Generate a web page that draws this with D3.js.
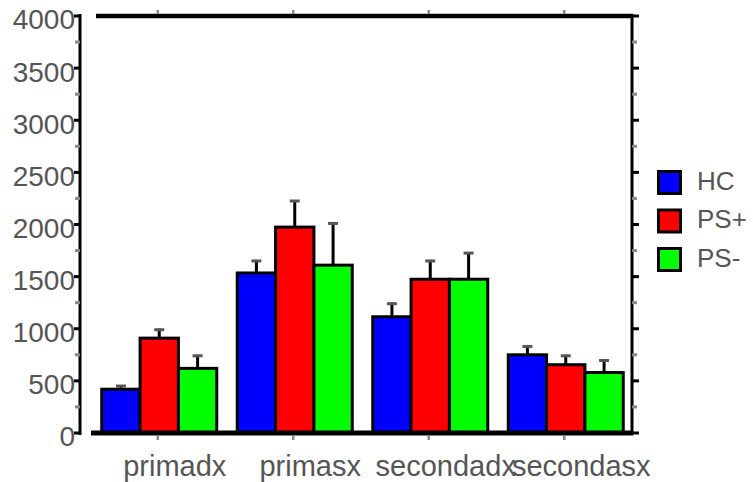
<!DOCTYPE html>
<html>
<head>
<meta charset="utf-8">
<script src="https://cdn.jsdelivr.net/npm/d3@7.9.0/dist/d3.min.js"></script>
<style>
  body { margin: 0; background: #fff; }
  svg { display: block; }
  text { font-family: "Liberation Sans", Arial, sans-serif; fill: #555; }
</style>
</head>
<body>
<svg id="chart" width="753" height="482"></svg>
<script>
// categories and series
const categories = ['primadx', 'primasx', 'secondadx', 'secondasx'];
const series = ['HC', 'PS+', 'PS-'];
const colors = ['#0000ff', '#ff0000', '#00ff00'];

// means per series (same order as categories)
const hcValues    = [420, 1535, 1115, 750];
const psPlusValues = [910, 1975, 1475, 655];
const psMinusValues = [620, 1610, 1475, 580];

// error (upper) per series
const hcErrors    = [40, 125, 135, 90];
const psPlusErrors = [90, 260, 185, 95];
const psMinusErrors = [130, 410, 260, 125];

const yTicks = [0, 500, 1000, 1500, 2000, 2500, 3000, 3500, 4000];

const valuesBySeries = [hcValues, psPlusValues, psMinusValues];
const errorsBySeries = [hcErrors, psPlusErrors, psMinusErrors];

const svg = d3.select('#chart');

const y = d3.scaleLinear().domain([0, 4000]).range([433, 16]);
const x = d3.scaleBand().domain(categories).range([90, 632]).paddingInner(0);
const inner = d3.scaleBand().domain(series).range([0, 115]);

// build rows for bars
const rows = [];
categories.forEach((c, i) => {
  series.forEach((s, j) => {
    rows.push({ cat: c, ser: s, color: colors[j], value: valuesBySeries[j][i], err: errorsBySeries[j][i] });
  });
});

const groupLeft = c => x(c) + x.bandwidth() / 2 - 57.5 + 1.5;

// bars
svg.append('g').selectAll('rect')
  .data(rows)
  .join('rect')
  .attr('x', d => groupLeft(d.cat) + inner(d.ser))
  .attr('y', d => y(d.value))
  .attr('width', inner.bandwidth())
  .attr('height', d => y(0) - y(d.value))
  .attr('fill', d => d.color)
  .attr('stroke', '#000')
  .attr('stroke-width', 3);

// error bars
const eb = svg.append('g').selectAll('g')
  .data(rows)
  .join('g')
  .attr('transform', d => `translate(${groupLeft(d.cat) + inner(d.ser) + inner.bandwidth() / 2},0)`);

eb.append('line')
  .attr('y1', d => y(d.value))
  .attr('y2', d => y(d.value + d.err))
  .attr('stroke', '#000')
  .attr('stroke-width', 3);

eb.append('line')
  .attr('x1', -5).attr('x2', 5)
  .attr('y1', d => y(d.value + d.err) + 1)
  .attr('y2', d => y(d.value + d.err) + 1)
  .attr('stroke', '#555')
  .attr('stroke-width', 3);

// left axis
const minorTicks = d3.range(250, 4000, 500);
const leftAxis = svg.append('g').attr('transform', 'translate(80,0)');
leftAxis.append('line').attr('y1', 14).attr('y2', 435).attr('stroke', '#000').attr('stroke-width', 3);
leftAxis.selectAll('.major').data(yTicks).join('line')
  .attr('x1', -6).attr('x2', 0)
  .attr('y1', d => y(d)).attr('y2', d => y(d))
  .attr('stroke', '#000').attr('stroke-width', 3);
leftAxis.selectAll('.minor').data(minorTicks).join('line')
  .attr('x1', -5).attr('x2', 0)
  .attr('y1', d => y(d)).attr('y2', d => y(d))
  .attr('stroke', '#888').attr('stroke-width', 3);
leftAxis.selectAll('text').data(yTicks).join('text')
  .attr('x', -5)
  .attr('y', d => y(d) + 6)
  .attr('dominant-baseline', 'middle')
  .attr('text-anchor', 'end')
  .style('font-size', '28px')
  .text(d => d);

// right axis
const rightAxis = svg.append('g').attr('transform', 'translate(632,0)');
rightAxis.append('line').attr('y1', 14).attr('y2', 435).attr('stroke', '#000').attr('stroke-width', 3);
rightAxis.selectAll('.major').data(yTicks).join('line')
  .attr('x1', 0).attr('x2', 7)
  .attr('y1', d => y(d)).attr('y2', d => y(d))
  .attr('stroke', '#000').attr('stroke-width', 3);
rightAxis.selectAll('.minor').data(minorTicks).join('line')
  .attr('x1', 0).attr('x2', 5)
  .attr('y1', d => y(d)).attr('y2', d => y(d))
  .attr('stroke', '#888').attr('stroke-width', 3);

// top frame line + category ticks
svg.append('line').attr('x1', 96).attr('x2', 633).attr('y1', 16).attr('y2', 16)
  .attr('stroke', '#000').attr('stroke-width', 4.5);
svg.append('g').selectAll('line').data(categories).join('line')
  .attr('x1', d => x(d) + x.bandwidth() / 2).attr('x2', d => x(d) + x.bandwidth() / 2)
  .attr('y1', 10).attr('y2', 14)
  .attr('stroke', '#888').attr('stroke-width', 2.5);

// bottom axis
svg.append('line').attr('x1', 91).attr('x2', 633).attr('y1', 433).attr('y2', 433)
  .attr('stroke', '#000').attr('stroke-width', 5);
svg.append('g').selectAll('line').data(categories).join('line')
  .attr('x1', d => x(d) + x.bandwidth() / 2).attr('x2', d => x(d) + x.bandwidth() / 2)
  .attr('y1', 436).attr('y2', 440)
  .attr('stroke', '#888').attr('stroke-width', 2.5);
svg.append('g').selectAll('text').data(categories).join('text')
  .attr('x', d => x(d) + x.bandwidth() / 2 + 17)
  .attr('y', 476)
  .attr('text-anchor', 'middle')
  .style('font-size', '29px')
  .text(d => d);

// legend
const legend = svg.append('g').selectAll('g').data(series).join('g')
  .attr('transform', (d, i) => `translate(657,${170 + i * 38.5})`);
legend.append('rect')
  .attr('x', 1.5).attr('y', 1.5)
  .attr('width', 22).attr('height', 22)
  .attr('fill', (d, i) => colors[i])
  .attr('stroke', '#000').attr('stroke-width', 3);
legend.append('text')
  .attr('x', 40).attr('y', 13)
  .attr('dominant-baseline', 'middle')
  .style('font-size', '26px')
  .text(d => d);
</script>
</body>
</html>
